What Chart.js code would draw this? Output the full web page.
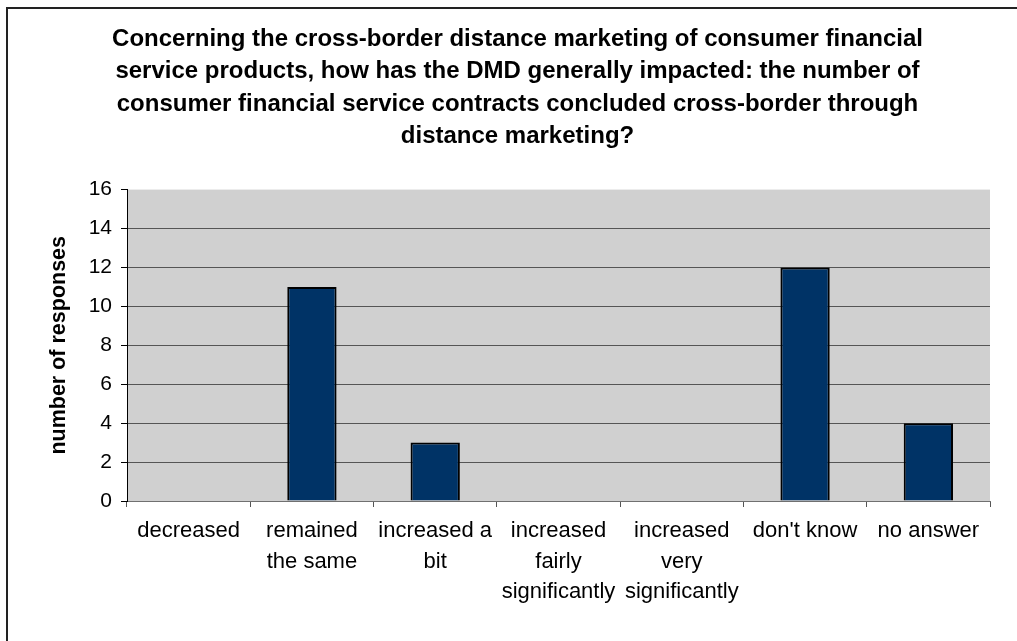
<!DOCTYPE html>
<html>
<head>
<meta charset="utf-8">
<title>DMD impact on cross-border contracts</title>
<script src="https://cdn.jsdelivr.net/npm/chart.js@4"></script>
<style>
  html, body { margin: 0; padding: 0; background: #fff; }
  #wrap { width: 1017px; height: 641px; position: relative; }
</style>
</head>
<body>
<div id="wrap"><canvas id="dmdChart"></canvas></div>
<script>
// survey answers
var categories = [
  'decreased',
  ['remained', 'the same'],
  ['increased a', 'bit'],
  ['increased', 'fairly', 'significantly'],
  ['increased', 'very', 'significantly'],
  "don't know",
  'no answer'
];
var responses = [0, 11, 3, 0, 0, 12, 4];
var yTicks = [0, 2, 4, 6, 8, 10, 12, 14, 16];

var titleLines = [
  'Concerning the cross-border distance marketing of consumer financial',
  'service products, how has the DMD generally impacted: the number of',
  'consumer financial service contracts concluded cross-border through',
  'distance marketing?'
];

var FONT = 'Liberation Sans, Arial, sans-serif';

// grey plot area + frame round the whole chart
var backdrop = {
  id: 'backdrop',
  beforeDraw: function(chart) {
    var ctx = chart.ctx, a = chart.chartArea;
    ctx.save();
    ctx.fillStyle = '#d0d0d0';
    ctx.fillRect(a.left, a.top, a.right - a.left, a.bottom - a.top);
    ctx.strokeStyle = '#222';
    ctx.lineWidth = 2;
    ctx.strokeRect(7, 8, 1030, 660);
    ctx.restore();
  }
};

var ctx = document.getElementById('dmdChart').getContext('2d');
var chart = new Chart(ctx, {
  type: 'bar',
  data: {
    labels: categories,
    datasets: [{
      data: responses,
      backgroundColor: '#003366',
      borderColor: '#000',
      borderWidth: 2,
      barPercentage: 0.4,
      categoryPercentage: 1
    }]
  },
  options: {
    responsive: true,
    maintainAspectRatio: false,
    animation: false,
    layout: { padding: { left: 18, right: 0, top: 0, bottom: 0 } },
    plugins: {
      legend: { display: false },
      tooltip: { enabled: false },
      title: {
        display: true,
        text: titleLines,
        color: '#000',
        font: { family: FONT, size: 24, weight: 'bold', lineHeight: 1.35 },
        padding: { top: 23, bottom: 37 }
      }
    },
    scales: {
      x: {
        grid: {
          display: true,
          drawOnChartArea: false,
          offset: true,
          tickLength: 6,
          tickColor: '#555'
        },
        border: { color: '#707070', width: 1 },
        ticks: {
          color: '#000',
          font: { family: FONT, size: 22, lineHeight: 1.38 },
          padding: 9,
          maxRotation: 0,
          autoSkip: false
        },
        afterFit: function(scale) { scale.height = 140; }
      },
      y: {
        min: 0,
        max: 16,
        afterBuildTicks: function(scale) {
          scale.ticks = yTicks.map(function(v) { return { value: v }; });
        },
        grid: {
          color: function(c) { return c.tick && c.tick.value === 16 ? 'rgba(0,0,0,0)' : '#555'; },
          tickColor: '#000',
          tickLength: 6
        },
        border: { color: '#000', width: 1 },
        ticks: {
          color: '#000',
          font: { family: FONT, size: 21 },
          padding: 9
        },
        title: {
          display: true,
          text: 'number of responses',
          color: '#000',
          font: { family: FONT, size: 21.5, weight: 'bold', lineHeight: 1.2 },
          padding: { top: 28, bottom: 0 }
        },
        afterFit: function(scale) { scale.width = 109; }
      },
      // empty right-hand margin, keeps the title centred on the page
      yPad: {
        position: 'right',
        min: 0,
        max: 16,
        grid: { display: false },
        border: { display: false },
        ticks: { display: false },
        afterFit: function(scale) { scale.width = 27; }
      }
    }
  },
  plugins: [backdrop]
});
</script>
</body>
</html>
